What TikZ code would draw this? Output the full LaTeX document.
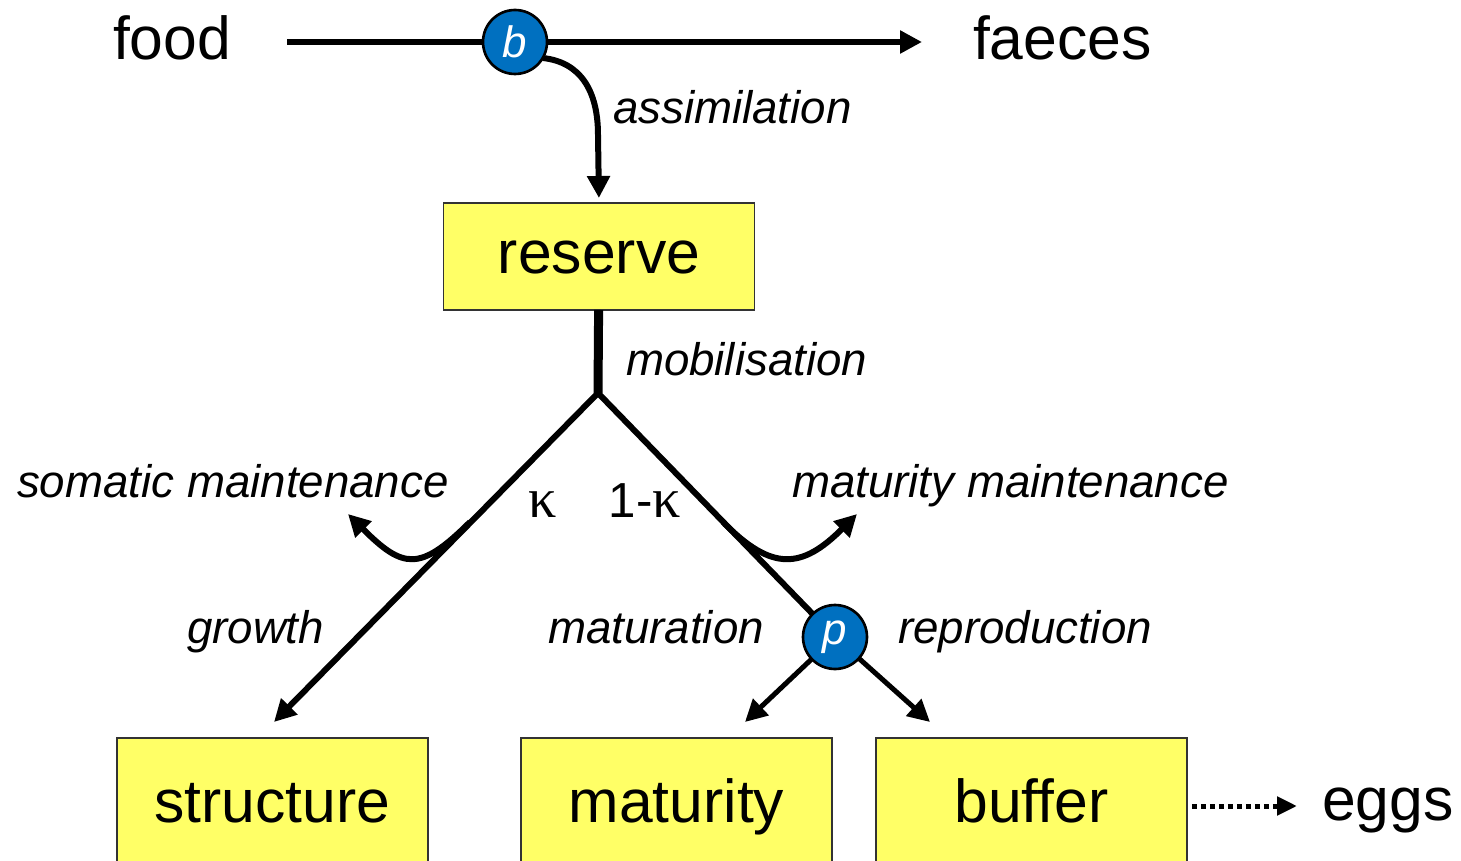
\documentclass[tikz,border=0pt]{standalone}
\usepackage{fontspec}
\setmainfont{Liberation Sans}
\newfontfamily\kappafont{Liberation Serif}
\usetikzlibrary{arrows.meta}
\definecolor{pool}{RGB}{255,255,102}
\definecolor{debblue}{RGB}{0,112,192}
\begin{document}
\begin{tikzpicture}[x=0.02cm, y=-0.02cm]
\tikzstyle{every node} = [inner sep=0pt, outer sep=0pt]
\tikzstyle{box} = [rectangle, draw=black!80, line width=1pt, fill=pool, minimum width=6.22cm, font=\fontsize{34.5}{40}\selectfont, text height=0.92cm, text depth=0.24cm]
\tikzstyle{valve} = [circle, draw=black, line width=1.5pt, fill=debblue, minimum size=1.28cm, text=white, font=\fontsize{25}{25}\selectfont\itshape]
\tikzstyle{word} = [anchor=base west, font=\fontsize{34.5}{40}\selectfont]
\tikzstyle{flux} = [anchor=base west, font=\fontsize{26}{30}\selectfont\itshape]
\tikzstyle{flow} = [line width=0.12cm, -{Triangle[length=0.44cm, width=0.44cm]}]
\useasboundingbox (0,0) rectangle (1461,861);
% food uptake
\node[word] (food) at (113,60) {food};
\node[word] (faeces) at (973,60) {faeces};
\node[valve] (b) at (515,42) {b};
\coordinate (in) at (287,42);
\coordinate (out) at (922,42);
\draw[line width=0.12cm] (in) -- (b);
\draw[flow] (b) -- (out);
\node[box, minimum height=2.14cm] (reserve) at (599,256.5) {reserve};
\draw[flow, shorten >=0.1cm] (b.-30) .. controls (580,62) and (598,90) .. (598,135) -- (reserve.north);
\node[flux] (assim) at (613,124) {assimilation};
% kappa rule
\coordinate (split) at (598,393);
\draw[line width=0.18cm] (reserve) -- (split);
\node[flux] (mob) at (626,376) {mobilisation};
\node[box, minimum height=2.72cm] (structure) at (272.5,806) {structure};
\node[box, minimum height=2.72cm] (maturity) at (676.5,806) {maturity};
\node[box, minimum height=2.72cm] (buffer) at (1031.5,806) {buffer};
\node[valve] (p) at (835,637) {p};
\coordinate (gtip) at (274,722);
\coordinate (mtip) at (745,722);
\coordinate (btip) at (930,722);
\draw[flow] (split) -- (gtip);
\draw[line width=0.12cm] (split) -- (p);
\draw[flow, line width=0.1cm] (p) -- (mtip);
\draw[flow, line width=0.1cm] (p) -- (btip);
\draw[flow] (470,522) .. controls (420,572) and (403,569) .. (348,514);
\draw[flow] (723,522) .. controls (772,572) and (802,569) .. (857,514);
\node[flux] (soma) at (17,498) {somatic maintenance};
\node[flux] (matm) at (792,498) {maturity maintenance};
\node[anchor=base, font=\fontsize{32}{32}\selectfont\kappafont] (kap) at (543,518) {κ};
\node[anchor=base, font=\fontsize{28}{30}\selectfont] (onekap) at (645,518) {1-{\fontsize{32}{32}\selectfont\kappafont κ}};
\node[flux] (grow) at (187,643) {growth};
\node[flux] (matu) at (548,643) {maturation};
\node[flux] (repro) at (898,643) {reproduction};
% eggs
\node[word] (eggs) at (1322,820) {eggs};
\draw[line width=0.1cm, dash pattern=on 0.1cm off 0.08cm, -{Triangle[length=0.4cm, width=0.36cm]}, shorten <=0.1cm, shorten >=0.5cm] (buffer.east) -- (buffer.east -| eggs.west);
\end{tikzpicture}
\end{document}
